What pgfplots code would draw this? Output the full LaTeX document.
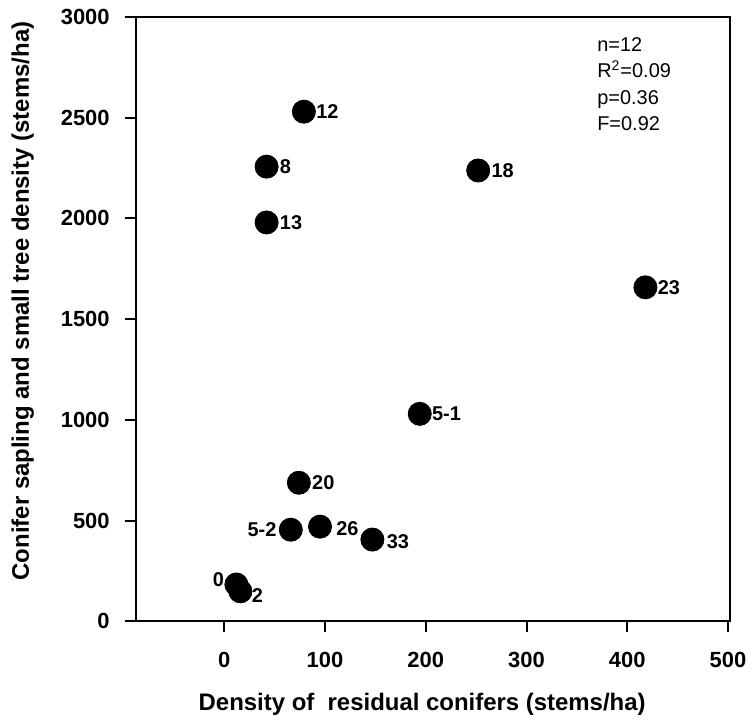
\documentclass[border=0pt]{standalone}
\usepackage{pgfplots}
\pgfplotsset{compat=1.18}
\usepackage{fontspec}
\setmainfont{Liberation Sans}
\begin{document}
\begin{tikzpicture}
\begin{axis}[
  scale only axis, width=298pt, height=303pt,
  xmin=-88, xmax=502, ymin=0, ymax=3000,
  xtick={0,100,200,300,400,500}, ytick={0,500,1000,1500,2000,2500,3000},
  tick align=outside, major tick length=5.5pt,
  xtick pos=bottom, ytick pos=left,
  axis line style={line width=1pt}, tick style={line width=1pt, black},
  /pgf/number format/assume math mode=true,
  /pgf/number format/1000 sep={},
  tick label style={font=\bfseries\fontsize{11}{13}\selectfont},
  xticklabel style={yshift=-6.5pt},
  yticklabel style={xshift=-4pt},
  xlabel={Density of \ residual conifers (stems/ha)},
  ylabel={Conifer sapling and small tree density (stems/ha)},
  label style={font=\bfseries\fontsize{12}{14}\selectfont},
  xlabel style={at={(axis description cs:0.482,-0.137)}, anchor=center},
  ylabel style={at={(axis description cs:-0.19,0.53)}, anchor=center},
  clip=false,
]
\addplot[only marks, mark=*, mark size=5.8pt, black,
  nodes near coords, point meta=explicit symbolic,
  visualization depends on={value \thisrow{anc} \as \anc},
  visualization depends on={value \thisrow{dx} \as \dx},
  visualization depends on={value \thisrow{dy} \as \dy},
  every node near coord/.append style={anchor=\anc, xshift=\dx pt, yshift=\dy pt, inner sep=0pt, black, font=\bfseries\fontsize{10}{12}\selectfont},
] table[x=x, y=y, meta=lab] {
x y lab anc dx dy
79 2530 12 west 6 0
42 2257 8 west 6.5 0
42 1980 13 west 6.5 0
252 2238 18 west 6.5 0
418 1658 23 west 6 0
194 1030 5-1 west 6 0
74 688 20 west 6.5 0
66 455 5-2 east -7 0
95 470 26 west 8 -1
147 406 33 west 7 -1
12 183 0 east -6 2.5
16 149 2 west 5.5 -2
};
\node[anchor=north west, align=left, inner sep=0pt, font=\fontsize{10}{13.3}\selectfont] at (rel axis cs:0.776,0.967) {n=12\\R\textsuperscript{2}=0.09\\p=0.36\\F=0.92};
\coordinate (ll) at (rel axis cs:0,0);
\coordinate (ur) at (rel axis cs:1,1);
\end{axis}
\path ([xshift=-68pt,yshift=-50.5pt]ll) rectangle ([xshift=10.5pt,yshift=8.5pt]ur);
\end{tikzpicture}
\end{document}
